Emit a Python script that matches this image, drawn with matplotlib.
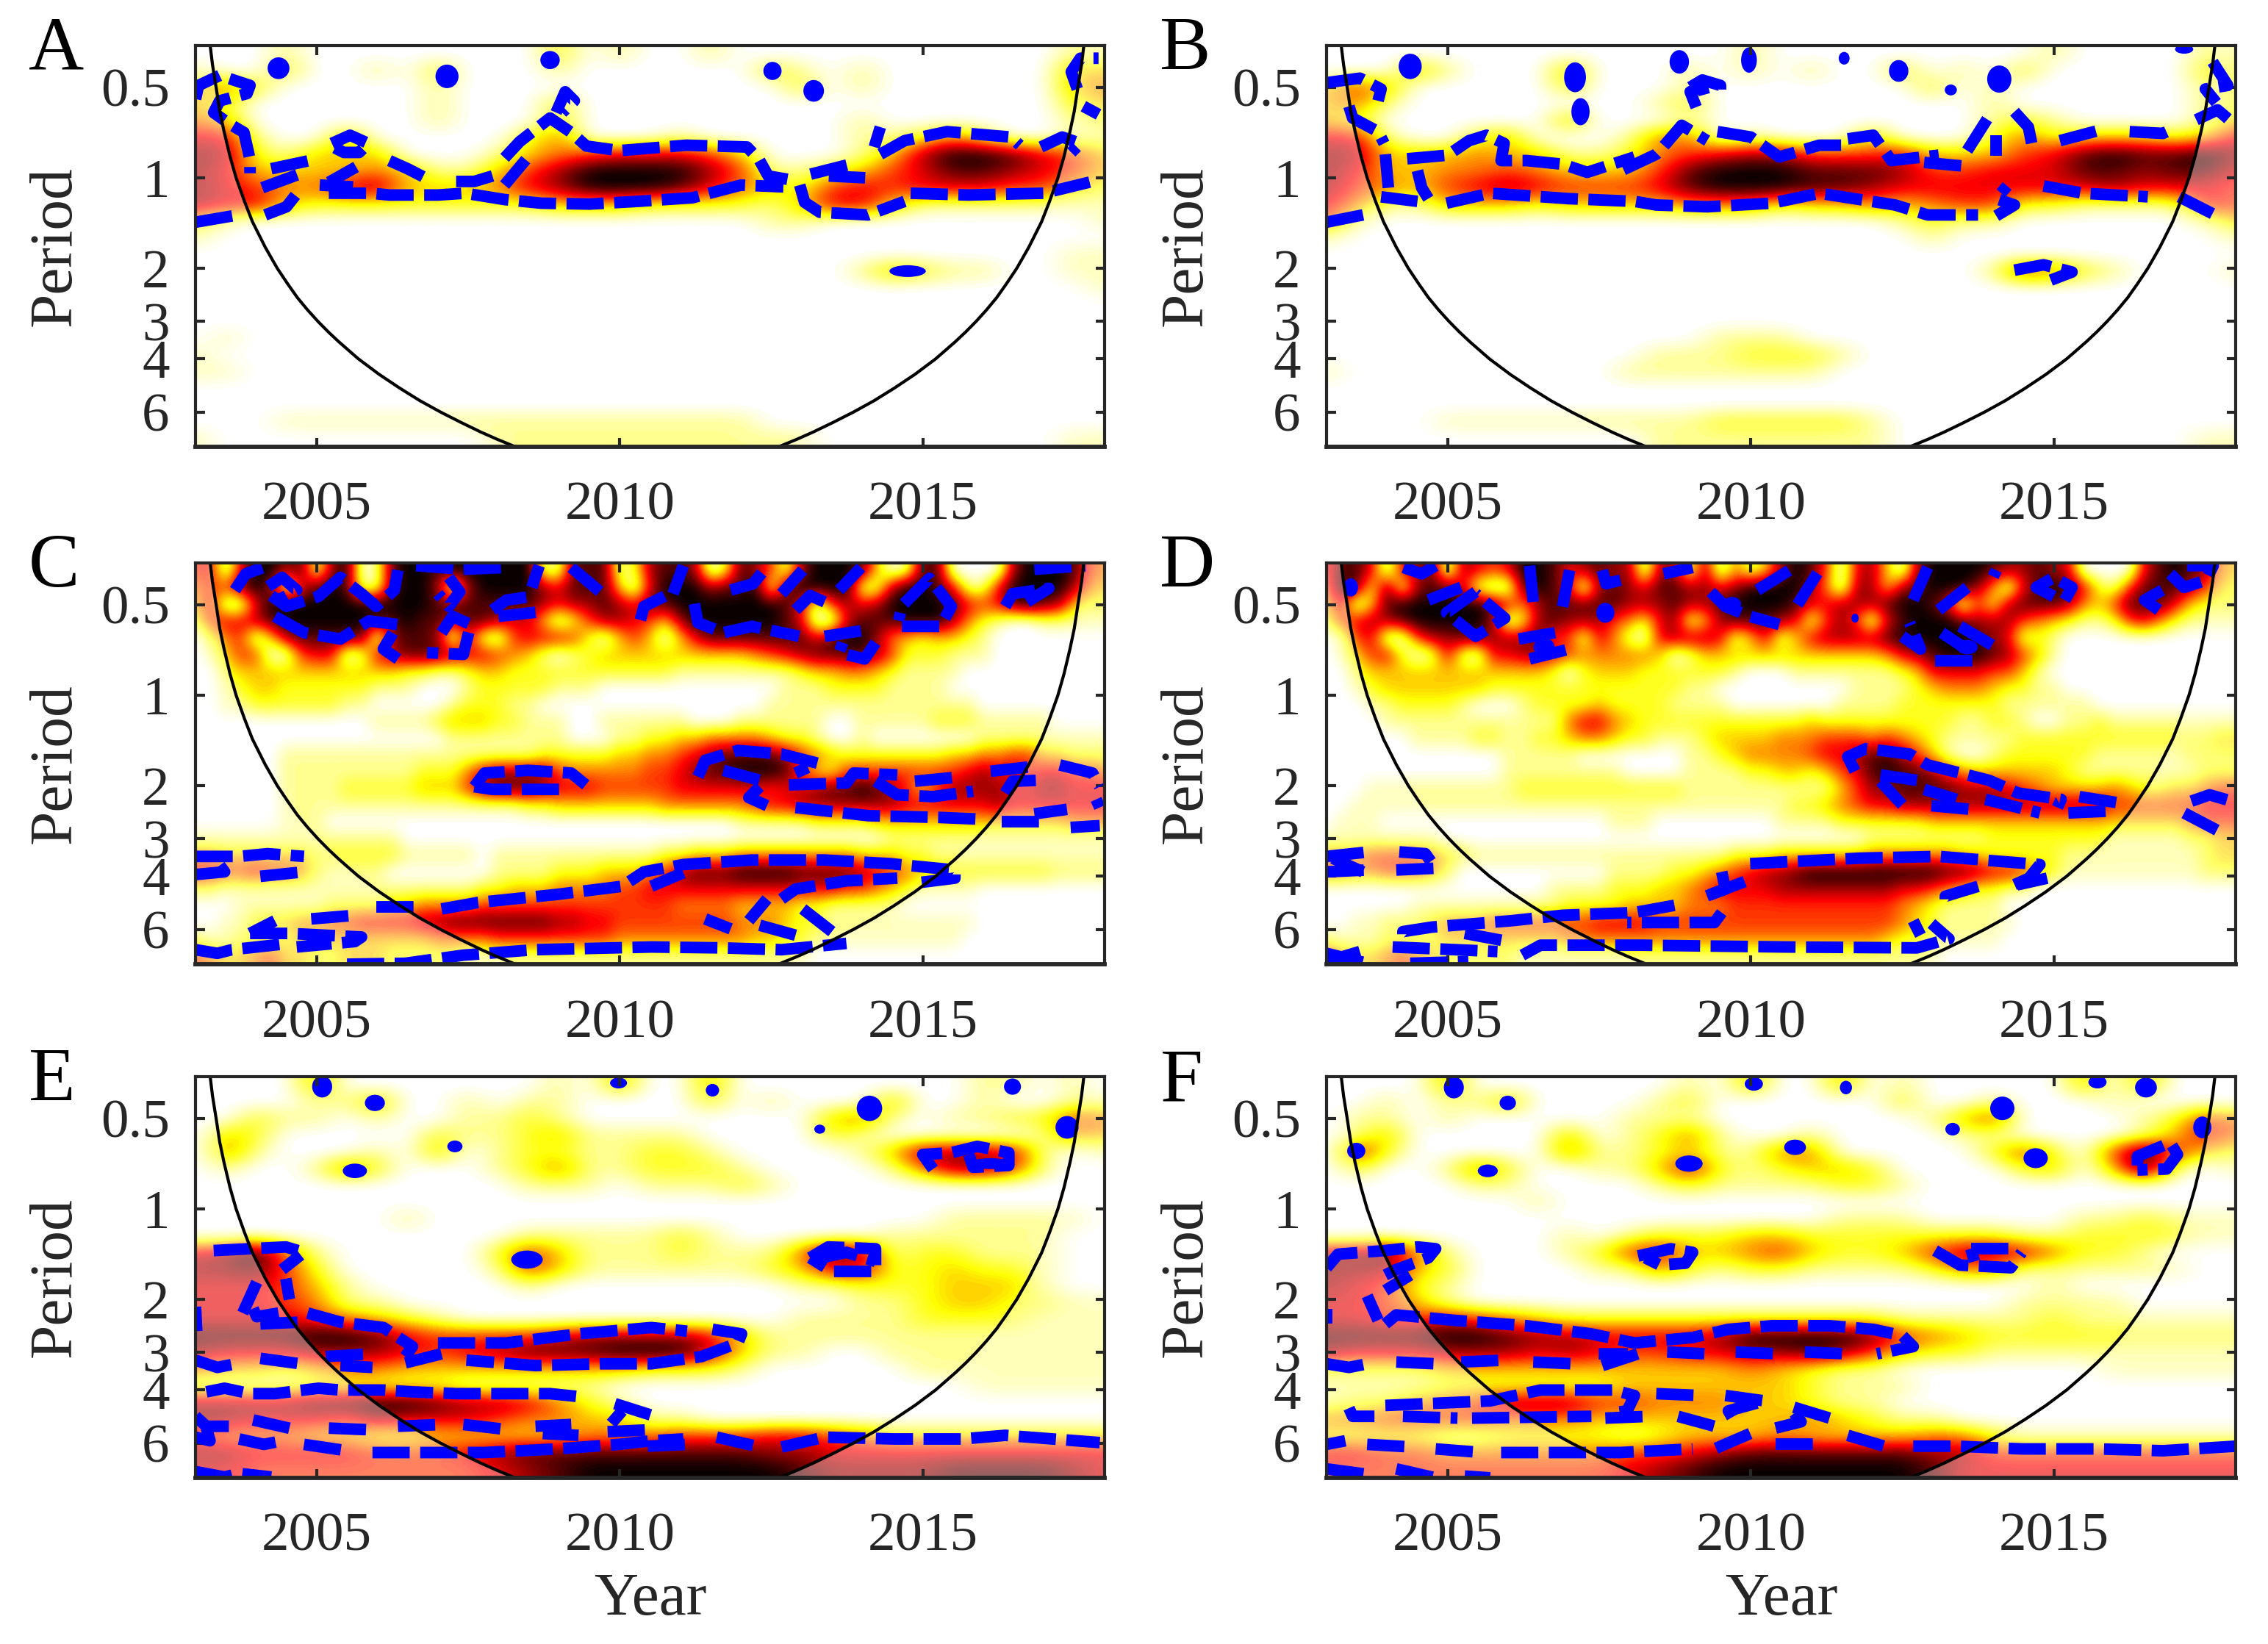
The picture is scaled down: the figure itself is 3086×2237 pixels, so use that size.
import matplotlib
matplotlib.use("Agg")
import matplotlib.pyplot as plt
from matplotlib.patches import Ellipse
import numpy as np

plt.rcParams["font.family"] = ["Liberation Serif", "DejaVu Serif"]

# wavelet power, levels 0 (white) to 9 (black)
# one row per period step (short periods first), spaces split the years
power_a = [
    "00 01 00 00 00 00 20 10 01 00 00 00 00 00 01 1",
    "10 02 00 10 20 00 10 00 00 02 10 10 00 00 03 3",
    "34 20 00 00 10 00 00 00 00 00 20 10 00 00 03 4",
    "32 00 00 00 10 00 20 00 00 00 00 00 00 00 02 3",
    "43 00 00 00 10 00 20 00 00 00 00 10 00 00 01 2",
    "66 10 03 00 00 02 40 00 10 00 00 11 24 20 01 1",
    "77 21 33 30 00 13 45 66 65 30 00 13 79 98 65 3",
    "76 33 33 43 11 35 79 99 97 51 12 35 68 87 65 3",
    "76 54 46 73 33 46 79 99 86 43 25 65 66 65 53 2",
    "76 63 22 22 22 22 33 32 22 21 36 63 11 11 11 1",
    "31 00 00 00 00 00 00 00 00 01 10 00 00 00 00 1",
    "10 00 00 00 00 00 00 00 00 00 00 00 00 00 00 0",
    "00 00 00 00 00 00 00 00 00 00 00 00 00 00 01 1",
    "00 00 00 00 00 00 00 00 00 00 00 13 21 10 01 1",
    "00 00 00 00 00 00 00 00 00 00 00 00 00 00 00 1",
    "00 00 00 00 00 00 00 00 00 00 00 00 00 00 00 0",
    "00 00 00 00 00 00 00 00 00 00 00 00 00 00 00 0",
    "01 00 00 00 00 00 00 00 00 00 00 00 00 00 00 0",
    "10 00 00 00 00 00 00 00 00 00 00 00 00 00 00 0",
    "11 00 00 00 00 00 00 00 00 00 00 00 00 00 00 0",
    "00 00 00 00 00 00 00 00 00 00 00 00 00 00 00 0",
    "00 00 00 00 00 00 00 00 00 00 00 00 00 00 00 0",
    "00 01 11 11 11 11 11 11 11 10 00 00 00 00 00 0",
    "10 00 00 00 00 11 11 11 11 11 10 00 00 00 01 1",
]
power_b = [
    "00 00 00 00 00 00 00 10 00 00 00 00 10 00 01 1",
    "00 03 10 00 30 00 10 10 10 02 01 02 00 00 02 2",
    "35 30 00 00 20 00 10 00 00 00 20 10 00 00 01 2",
    "34 10 00 00 00 01 20 00 00 00 00 10 00 00 01 2",
    "32 00 00 00 30 00 10 00 00 00 00 12 10 00 01 3",
    "66 10 02 30 00 14 40 10 00 30 00 24 23 33 23 6",
    "77 33 34 33 11 24 56 77 55 56 33 35 68 98 89 7",
    "76 33 44 54 33 35 89 99 88 87 55 66 68 87 88 6",
    "75 43 56 76 55 56 89 99 88 76 66 66 66 76 66 5",
    "64 11 33 32 33 33 44 42 33 43 45 52 21 11 16 5",
    "51 00 00 00 00 00 00 00 00 01 21 10 00 00 01 3",
    "10 00 00 00 00 00 00 00 00 00 10 00 00 00 00 1",
    "00 00 00 00 00 00 00 00 00 00 00 00 00 00 00 0",
    "00 00 00 00 00 00 00 00 00 00 00 15 42 10 00 1",
    "00 00 00 00 00 00 00 00 00 00 00 00 00 00 00 0",
    "00 00 00 00 00 00 00 00 00 00 00 00 00 00 00 0",
    "00 00 00 00 00 00 00 00 00 00 00 00 00 00 00 0",
    "00 00 00 00 00 00 01 11 00 00 00 00 00 00 00 0",
    "00 00 00 00 00 01 11 22 21 00 00 00 00 00 00 0",
    "10 00 00 00 00 11 11 11 10 00 00 00 00 00 00 0",
    "00 00 00 00 00 00 00 00 00 00 00 00 00 00 00 0",
    "00 00 00 00 00 00 00 00 00 00 00 00 00 00 00 0",
    "00 00 11 11 11 11 12 22 22 10 00 00 00 00 00 0",
    "00 00 00 00 00 01 11 11 11 10 00 00 00 00 01 1",
]
power_c = [
    "5606 9978 1790 1899 8999 9991 1888 1278 8702 8751 7999 8301 8800 0079 9985 4",
    "4558 9706 8981 1899 7079 9997 6888 3069 9978 8918 9999 1179 9861 1699 9974 3",
    "3600 6999 9999 9999 8888 8887 6778 7688 9999 9998 6157 6799 9986 5689 8732 2",
    "2566 7899 9999 8898 8788 7663 0257 7653 7999 9998 6006 8889 9974 2100 1111 1",
    "0245 0378 8888 0788 7061 0566 6520 3530 3688 8888 8689 9743 2332 1000 0000 0",
    "0135 5005 6601 6788 8766 5431 0123 3333 3333 3456 7888 8752 2211 1000 0000 0",
    "0023 3333 3333 3322 1123 3222 2222 2222 1111 1111 2334 4321 1110 0000 0000 0",
    "0012 3322 2222 1110 0012 2222 1110 0000 0000 0001 1122 2211 1100 0000 0000 0",
    "0011 2222 2211 0000 0122 2110 0000 0000 0000 0011 1111 1111 1111 0000 0000 0",
    "0000 0000 0000 1111 2333 2211 1001 1111 1000 1111 1100 1111 1222 1111 1000 0",
    "0000 0000 0000 0000 0111 1111 1000 1122 3344 4432 2100 1000 0000 1111 1111 1",
    "0000 0011 1111 1111 1111 1112 2222 3344 5678 8887 5432 2222 2233 4455 3322 2",
    "0000 0011 1111 1112 2246 7777 5444 4455 6788 9998 5325 5555 5556 7665 6655 4",
    "0000 0011 1122 2223 3357 8887 6665 5555 6666 6656 6788 9875 3577 7766 7766 6",
    "0000 0011 1111 1111 1111 1122 3333 3334 4444 4566 7777 7776 6666 6766 6666 6",
    "0000 0011 1000 0000 0000 0000 0000 0000 0000 1111 1222 2333 3333 3333 3344 4",
    "1111 1111 1111 1100 0000 0000 0000 0000 0000 0000 0000 0011 1111 1111 1111 1",
    "4433 3333 2222 2211 1110 1111 1111 1112 2333 4444 4444 3332 2111 1111 1111 1",
    "6655 6554 2111 1000 0000 1111 2223 3345 7888 9999 8888 7654 3333 3333 3222 2",
    "2211 1111 1111 1111 1112 2333 4444 5566 6666 6666 6665 5432 1111 0000 0000 0",
    "0001 1111 1222 2334 4445 5555 5555 5555 4444 3333 2211 1110 0000 0000 0000 0",
    "0011 3334 4556 6667 7888 8888 7766 5555 5555 4443 2211 1111 1111 0000 0000 0",
    "2112 2223 3333 3333 4444 5555 5555 4444 4444 4332 2111 1111 1110 0000 0000 0",
    "5433 4533 2233 3222 2211 1111 1111 1111 1111 1111 1000 0000 0000 0000 0000 0",
]
power_d = [
    "5886 0678 0765 6998 6787 7077 1704 1379 8506 7307 9999 8778 7600 0068 9874 3",
    "4982 8178 8610 0898 6078 7688 7767 9999 7407 7378 9997 4068 9862 1588 8753 2",
    "3603 8999 9998 6478 8888 7778 7789 9998 6677 7899 8605 2788 8743 5888 6322 2",
    "2567 7899 9997 0278 7775 4267 1378 8876 1575 0689 9987 7754 3211 2564 2111 1",
    "0156 0057 7887 7785 5164 1067 7761 3613 6777 7899 9998 7612 1000 0000 0000 0",
    "0135 6201 6106 6776 5444 4430 1333 3333 3333 3467 8999 8753 1000 0000 0000 0",
    "0023 3333 3333 3332 0233 3222 2221 0001 1111 1123 6666 5531 0000 0000 0000 0",
    "0012 3333 3332 2222 2222 2222 1100 0000 0001 1112 3444 3221 1000 0000 0000 0",
    "0001 1222 2100 0122 2232 2221 1110 0000 0011 1122 2222 2111 1110 0000 0000 0",
    "0000 1111 1111 1111 4664 3222 2222 2222 3222 2222 2211 2210 0112 1111 1111 1",
    "0000 0011 1122 1122 3443 2211 1233 3344 4555 4543 2111 1122 2222 2222 2223 3",
    "0000 0000 0000 1111 1000 0000 1123 4444 5667 8875 3100 1222 2221 1111 1222 2",
    "0000 0000 0000 1111 1111 0000 1111 2233 2356 8988 7543 3333 3211 1111 1122 2",
    "0001 1111 1111 1222 2222 2222 1111 1111 1135 7788 8877 7654 3333 4322 3345 5",
    "0011 1111 1111 1111 1111 1111 1111 1112 2345 6677 7777 7777 7777 5555 5566 6",
    "0111 0000 0000 0000 0001 1100 0000 0011 1122 2222 3333 3333 3333 3333 3455 5",
    "1111 1111 0000 0000 0000 0000 0000 0000 0000 1111 1111 2222 2222 1111 1223 3",
    "4445 5554 3211 1111 1111 1111 1112 2233 3333 4444 4433 2222 2111 1111 1123 3",
    "5544 5554 2000 0000 0001 1112 2345 6778 9999 9999 9887 6653 2111 1111 1122 2",
    "0000 0000 0000 0001 1112 2233 4566 6677 7777 7766 5432 2110 0000 0000 0000 0",
    "0000 0011 1111 1111 2222 3333 4445 5555 5555 5543 2111 1000 0000 0000 0000 0",
    "0011 2223 4445 5555 5566 6655 5555 5555 5555 5543 2111 1100 0000 0000 0000 0",
    "2111 2222 3333 3333 4444 4444 4444 4444 4444 4322 1111 1000 0000 0000 0000 0",
    "5433 4543 2222 2111 1111 1111 1111 1111 1111 1111 1000 0000 0000 0000 0000 0",
]
power_e = [
    "00 00 30 00 00 00 10 30 03 00 00 00 00 11 01 0",
    "00 00 11 30 01 01 10 00 02 01 00 03 00 10 01 1",
    "00 21 10 10 01 12 10 00 00 00 03 41 01 12 25 4",
    "03 20 00 00 21 12 31 11 10 00 02 10 00 00 14 3",
    "04 10 00 10 30 12 21 12 21 00 00 13 77 76 10 1",
    "01 00 14 20 00 12 41 12 22 10 00 01 47 75 10 0",
    "00 00 00 00 00 01 11 01 11 21 00 00 00 00 00 0",
    "00 00 00 00 00 00 00 00 00 00 00 00 00 00 00 0",
    "00 00 00 01 00 00 00 00 00 00 00 00 01 11 11 0",
    "00 00 00 00 00 01 11 11 21 00 00 01 11 11 10 0",
    "67 94 10 00 00 25 31 11 21 11 48 71 22 11 10 0",
    "77 85 20 00 00 15 31 11 11 12 36 62 23 22 10 0",
    "66 65 31 00 00 01 00 00 00 00 11 22 23 33 10 0",
    "66 65 41 10 00 00 00 00 00 00 00 11 23 32 21 1",
    "66 66 54 32 10 00 00 00 00 00 11 11 22 22 11 1",
    "88 88 99 86 55 55 67 77 76 31 11 11 11 11 11 1",
    "76 66 77 76 56 78 88 99 96 31 10 01 11 11 11 1",
    "43 32 34 43 33 33 33 32 22 10 00 00 11 11 11 1",
    "11 11 22 22 21 11 11 00 00 00 00 00 00 11 11 1",
    "77 77 88 99 87 76 42 10 00 00 00 00 00 00 00 0",
    "77 66 65 76 66 54 43 31 10 00 00 00 00 00 00 0",
    "54 44 33 22 33 33 34 44 55 56 65 43 33 33 33 3",
    "77 66 66 55 56 78 88 88 88 87 76 66 66 66 66 6",
    "66 55 55 55 55 67 89 99 99 99 87 77 78 88 87 6",
]
power_f = [
    "00 00 30 00 00 00 10 30 03 01 00 00 03 03 00 0",
    "00 10 11 30 00 01 20 00 00 02 00 10 00 10 00 0",
    "01 10 10 00 00 11 10 00 00 00 13 50 00 01 25 4",
    "01 30 00 00 30 12 41 00 10 00 01 10 00 01 36 4",
    "06 20 00 00 41 12 31 14 40 00 00 25 20 59 53 2",
    "02 00 14 20 01 13 62 12 33 20 00 02 30 39 10 1",
    "00 00 01 10 00 01 21 11 12 21 00 00 00 00 00 0",
    "00 00 00 01 00 00 00 00 00 00 00 00 00 00 00 0",
    "00 00 00 00 00 00 00 00 01 11 00 00 01 12 11 1",
    "00 00 00 00 10 12 22 33 22 22 22 21 12 22 21 1",
    "77 84 10 00 12 56 33 45 32 23 57 76 42 21 00 0",
    "77 73 20 00 01 14 21 22 11 11 24 41 11 11 10 0",
    "76 52 10 00 00 00 00 00 00 00 00 00 10 00 00 0",
    "66 53 10 00 00 00 00 00 00 00 00 01 11 10 00 0",
    "66 55 65 43 22 22 22 22 22 21 11 11 21 11 11 1",
    "88 88 99 87 76 66 67 99 99 85 43 22 22 22 22 2",
    "76 66 77 76 76 55 66 77 87 53 22 11 11 11 11 1",
    "22 22 33 33 33 33 33 43 21 10 00 00 00 11 11 1",
    "11 11 22 22 22 33 33 33 21 11 00 00 00 00 00 0",
    "12 24 45 77 75 54 44 33 21 10 00 00 00 00 00 0",
    "44 55 55 44 43 33 33 33 43 21 10 00 00 00 00 0",
    "22 22 11 22 22 12 33 34 33 33 44 21 11 11 11 1",
    "66 55 44 44 44 55 67 88 88 88 77 55 55 55 55 5",
    "55 55 55 55 55 67 89 99 99 99 86 66 66 66 66 6",
]

# significance contours as (year - 2000, log2 period)
paths_a = [
    [(3.0,-.87),(3.05,-1.02),(3.4,-1.13),(3.9,-1.02),(3.85,-.93),(3.4,-.85),(3.3,-.72),(3.55,-.6),(3.8,-.5),(3.9,-.2),(3.9,-.05)],
    [(4.25,-.1),(4.95,-.2)], [(4.1,.11),(4.75,-.05)], [(3.0,.49),(3.7,.41)], [(4.15,.41),(4.5,.32),(4.7,.15)],
    [(5.25,-.38),(5.55,-.47),(5.85,-.38),(5.7,-.28),(5.45,-.28),(5.3,-.33)],
    [(5.05,.08),(5.6,.1)], [(5.2,.05),(5.65,-.12)],
    [(5.2,.17),(5.9,.17),(6.2,.19),(7,.19),(7.45,.17),(8.1,.24),(8.7,.28),(9.5,.29),(10.3,.26),(11.2,.22),(12,.08),(12.7,.1)],
    [(6.2,-.19),(6.5,-.1),(6.85,.02)], [(7.3,.04),(7.6,.04),(7.95,-.03)],
    [(8.1,.08),(8.45,-.2)],
    [(8.1,-.22),(8.35,-.4),(8.85,-.66),(9.2,-.5),(9.45,-.35),(10,-.3),(11.1,-.36),(12.1,-.34),(12.3,-.2),(12.45,-.02),(12.8,.02)],
    [(8.95,-.72),(9.1,-.95),(9.25,-.85),(9.05,-.72)],
    [(13.15,-.04),(13.8,-.15)], [(13.45,-.02),(14.05,0)],
    [(12.97,.08),(13.05,.27),(13.3,.38),(14.1,.41),(14.7,.26)],
    [(14.8,.17),(15.75,.19),(17,.17),(17.8,.04)],
    [(14.3,-.26),(14.7,-.41),(15.4,-.51),(16.45,-.45),(16.6,-.36)],
    [(14.2,-.34),(14.3,-.56)],
    [(16.95,-.34),(17.3,-.45),(17.6,-.38),(17.45,-.28)],
    [(17.55,-.98),(17.45,-1.17),(17.6,-1.32),(17.9,-1.32)], [(17.65,-.79),(17.9,-.7)],
]
paths_b = [
    [(3,-1.05),(3.55,-1.1),(3.9,-.98),(3.85,-.85)],
    [(3.37,-.79),(3.43,-.66),(3.85,-.51),(3.95,-.38)],
    [(3.97,-.26),(4.02,.11)], [(4.5,-.08),(4.57,.11),(4.68,.23)], [(3.9,.21),(4.5,.26)], [(3,.49),(3.67,.4)],
    [(4.33,-.21),(5,-.25),(5.35,-.41),(5.64,-.47),(5.93,-.38),(5.88,-.19),(6.3,-.19),(6.9,-.15),(7.3,-.06),(8.08,-.23)],
    [(7.9,-.09),(8.44,-.26),(8.5,-.3),(8.86,-.58),(9.28,-.41)],
    [(9.45,-.51),(10,-.45),(10.47,-.23),(11.13,-.36),(11.49,-.36)],
    [(11.6,-.43),(12.02,-.47),(12.32,-.19),(13.1,-.25)], [(12.86,-.17),(13.5,-.13)],
    [(4.98,.28),(5.7,.17),(7,.23),(8.08,.26),(8.44,.3),(9.28,.32),(10.35,.28),(11.13,.17),(12.38,.3),(12.92,.41),(13.75,.41)],
    [(14.05,.42),(14.35,.3),(14.05,.23),(14.23,.09)],
    [(14.83,.09),(15.48,.17),(16.55,.21)], [(17.07,.21),(17.66,.41)],
    [(15.1,-.41),(15.78,-.53)], [(16.25,-.51),(16.8,-.49),(17,-.55)],
    [(17.35,-.64),(17.7,-.75),(17.93,-.62)],
    [(13.57,-.3),(13.93,-.68)], [(14.35,-.73),(14.58,-.56),(14.65,-.33)], [(14.05,-.47),(14.05,-.24)],
    [(17.62,-1.28),(17.87,-1.02),(17.5,-.98),(17.68,-.83)],
    [(14.35,1.02),(14.83,.96),(15.3,1.04),(14.95,1.13)],
    [(9.0,-1.0),(9.2,-1.08),(9.5,-1.02),(9.5,-.88)], [(9.1,-.78),(9.0,-.95),(9.2,-1.0),(9.25,-.88)],
]
paths_c = [
    [(3.65,-1.16),(3.83,-1.34),(4.2,-1.43)],
    [(4.25,-1.1),(4.5,-.98),(5.03,-1.09),(5.39,-1.3),(5.74,-1.12),(5.98,-.98),(6.28,-1.16),(6.34,-1.38)],
    [(4.2,-1.2),(4.43,-1.3),(4.67,-1.16),(4.37,-1.05)],
    [(6.64,-1.43),(7.42,-1.39),(8.13,-1.41)],
    [(7.18,-1.3),(7.36,-1.14),(7.18,-.98),(7,-1.12)],
    [(7.9,-.94),(8.13,-1.05),(8.55,-1.09)], [(8.0,-.87),(8.67,-.92)],
    [(4.31,-.87),(4.79,-.69),(5.39,-.62),(5.86,-.82),(6.34,-.78),(6.1,-.51),(6.34,-.4)],
    [(7.06,-.69),(7.24,-.87),(7.54,-.78),(7.42,-.45),(6.82,-.47)],
    [(8.55,-1.19),(8.67,-1.43)], [(9.2,-1.41),(9.68,-1.14)],
    [(10.34,-.83),(10.4,-.98),(10.76,-1.1)], [(10.88,-1.12),(11.05,-1.43)],
    [(11.23,-1.01),(11.29,-.8),(11.71,-.69),(12.18,-.76),(12.96,-.65)],
    [(11.83,-1.16),(12.2,-1.23),(12.44,-1.43)], [(12.67,-1.12),(13.02,-1.38)],
    [(12.9,-.94),(13.14,-1.1),(13.38,-1.03)],
    [(14.69,-1.01),(15.11,-1.29),(15.47,-.98),(15.29,-.76),(14.58,-.76),(14.63,-.91)],
    [(13.38,-.65),(13.98,-.71)], [(14.22,-.58),(14.04,-.4),(13.62,-.47),(13.68,-.58)],
    [(13.62,-1.16),(13.98,-1.41)],
    [(16.36,-.98),(16.48,-1.12),(17.08,-1.18),(16.72,-1.03)], [(16.84,-1.39),(17.68,-1.43)],
    [(7.6,1.01),(7.77,.86),(8.49,.83),(9.2,.86),(9.44,.99)], [(7.6,1.01),(7.9,1.04),(9.03,1.04)],
    [(11.29,.9),(11.41,.72),(11.95,.61),(12.67,.65),(13.26,.75),(12.9,.86)], [(11.71,.83),(12.37,.95)],
    [(12.79,.99),(13.74,.97),(13.86,.86),(14.58,.88)],
    [(14.22,.95),(14.58,1.1),(15.17,1.12),(15.83,1.06)], [(14.87,.95),(15.65,.9)],
    [(12.43,1.22),(12.13,1.13),(12.31,1.01)],
    [(12.9,1.24),(14.1,1.33),(15.29,1.35),(16.0,1.37)], [(16.3,1.4),(16.96,1.4)],
    [(16.36,1.08),(16.48,.95),(16.9,.94)], [(16.12,.84),(16.78,.79)],
    [(17.26,.77),(17.8,.86),(17.92,1.01)], [(17.86,1.15),(17.92,1.24)], [(16.84,1.31),(17.38,1.26)], [(17.44,1.46),(17.92,1.44)],
    [(3,1.78),(3.72,1.78),(4.19,1.75),(4.79,1.78)], [(3,1.98),(3.48,1.95),(3.36,1.84)], [(4.07,2),(4.79,1.95)],
    [(5.98,2.34),(6.64,2.34)],
    [(7.06,2.36),(7.65,2.29),(8.96,2.2),(10.04,2.11),(10.4,1.95),(11.05,1.87),(12.18,1.82),(13.38,1.82),(14.46,1.86),(15.53,1.93),(15.53,2.02),(14.93,2.07)],
    [(10.52,2.11),(11.05,1.96)], [(12.67,2.25),(12.9,2.14),(13.74,2.05),(14.58,2.02)],
    [(12.13,2.49),(12.43,2.25)], [(13.02,2.36),(13.5,2.61)],
    [(11.41,2.47),(11.83,2.58)], [(12.31,2.54),(12.9,2.65)],
    [(4.91,2.47),(5.63,2.43)], [(3.9,2.63),(4.31,2.49)], [(3.9,2.63),(4.55,2.63),(5.74,2.67),(5.63,2.72),(4.67,2.78)],
    [(3,2.81),(3.36,2.85),(3.6,2.81),(4.55,2.74)],
    [(5.5,2.97),(6.46,2.96),(7.42,2.87),(8.6,2.81),(10.52,2.78),(11.7,2.79),(12.67,2.81),(13.74,2.74)],
]
paths_d = [
    [(4.27,-1.41),(4.57,-1.34),(4.8,-1.43)],
    [(5.46,-1.14),(4.98,-.91),(5.46,-.65),(5.94,-.85),(5.46,-1.12)], [(4.68,-1.05),(5.22,-1.19)],
    [(6.35,-1.43),(6.41,-1.03)], [(7.01,-1.38),(6.89,-.96)], [(7.55,-1.38),(7.61,-1.23),(7.85,-1.27)],
    [(8.56,-1.34),(9.04,-1.41)], [(9.34,-1.14),(9.58,-.98),(9.99,-.87),(10.47,-.78)],
    [(10.11,-1.16),(10.71,-1.41)], [(10.77,-1),(11.13,-1.38)],
    [(12.68,-1.05),(12.92,-1.41)], [(13.1,-.94),(13.57,-1.19)],
    [(12.5,-.65),(12.8,-.51),(12.62,-.8)], [(13.45,-.76),(13.99,-.55)], [(13.15,-.69),(13.51,-.53)],
    [(13.04,-.38),(13.69,-.38)], [(14.05,-1.38),(14.0,-1.31)],
    [(15,-1.09),(14.71,-1.19),(15,-1.3),(15.3,-1.19),(15.18,-1.05)],
    [(16.73,-.94),(16.5,-1.05),(16.79,-1.16)],
    [(16.92,-1.34),(17.15,-1.19),(17.51,-1.27),(17.63,-1.43),(17.03,-1.43)],
    [(6.17,-.62),(6.77,-.69)], [(6.35,-.4),(7.01,-.51)],
    [(11.72,.84),(11.6,.68),(11.9,.59),(12.62,.65),(12.92,.77),(13.93,.94),(14.41,1.08),(15.12,1.15),(15.06,1.24)],
    [(12.14,.88),(12.74,.94)], [(12.14,.95),(12.5,1.21)],
    [(12.86,1.04),(13.39,1.15)], [(12.98,1.22),(13.63,1.26)], [(13.87,1.15),(14.77,1.3)], [(15.24,1.3),(15.9,1.28)], [(15.42,1.12),(16.08,1.19)],
    [(17.27,1.17),(17.57,1.1),(17.93,1.17)], [(17.15,1.3),(17.69,1.49)],
    [(3,1.78),(3.7,1.73)], [(3,1.95),(3.67,1.93)], [(4.15,1.93),(4.8,1.91),(4.63,1.75),(4.2,1.73)], [(3.1,1.8),(3.6,1.95)],
    [(9.99,1.86),(11.78,1.8),(13.1,1.78),(14.77,1.87),(14.59,2.02),(14.29,2.11),(14.89,2.02)],
    [(9.52,1.95),(9.58,2.14),(9.22,2.23),(9.93,2.05)],
    [(13.75,2.11),(13.21,2.22),(13.21,2.34)],
    [(8.74,2.32),(8.08,2.4),(6.89,2.43),(6.05,2.49),(4.74,2.56),(4.26,2.61),(4.26,2.65)],
    [(9.52,2.4),(9.4,2.51),(7.96,2.51)],
    [(5.28,2.63),(6,2.72)], [(4.09,2.78),(5.82,2.83)],
    [(6.23,2.87),(6.53,2.76),(8.2,2.76),(10.59,2.78),(12.74,2.79),(13.27,2.69),(12.98,2.52)],
    [(12.68,2.49),(12.8,2.65)],
    [(3,2.85),(3.67,2.96)], [(3,2.94),(3.55,2.83)], [(4.38,2.96),(5.34,2.94)],
]
paths_e = [
    [(15.17,-.44),(15.0,-.6),(15.47,-.62),(15.9,-.69),(16.42,-.62),(16.42,-.48),(15.83,-.46),(15.76,-.6)],
    [(13.14,.54),(13.44,.42),(14.22,.44),(14.22,.69),(13.5,.69),(13.14,.54)], [(13.32,.54),(13.74,.48),(14.22,.58)],
    [(3.3,.46),(3.9,.44),(4.49,.42),(4.79,.48),(4.43,.67)],
    [(4.49,.77),(4.55,1)], [(4.01,.81),(3.78,1.15)], [(3.95,1.1),(4.01,1.19),(4.37,1.15)], [(3,1.08),(3.02,1.35)],
    [(4.07,1.27),(4.73,1.25)],
    [(4.85,1.15),(5.39,1.25),(6.1,1.31),(6.58,1.52),(6.46,1.63)],
    [(7,1.48),(8.13,1.48),(9.32,1.38),(10.52,1.31),(11.11,1.35)],
    [(11.53,1.33),(12.01,1.38),(11.95,1.48),(11.35,1.63),(10.52,1.71),(9.68,1.71),(8.61,1.73),(7.47,1.67)],
    [(7.06,1.6),(6.4,1.71)],
    [(3,1.67),(3.36,1.75),(3.66,1.71)], [(4.07,1.65),(4.73,1.71)], [(5.15,1.63),(5.92,1.6)], [(5.39,1.73),(5.92,1.75)],
    [(3.18,2.02),(3.48,1.98),(3.9,2.04),(4.31,2.04),(5.03,1.98),(5.39,2),(6.1,2),(6.58,2.02),(7.3,2.04),(8.37,2.04),(8.85,2.04),(9.44,2.08)],
    [(9.92,2.15),(10.58,2.29)], [(10.04,2.23),(9.86,2.37)],
    [(8.61,2.4),(9.2,2.38)], [(8.73,2.48),(9.32,2.5)], [(9.8,2.46),(10.46,2.44)],
    [(3.95,2.33),(4.67,2.44)], [(5.2,2.42),(5.92,2.44)], [(6.34,2.4),(7.06,2.38)], [(7.42,2.38),(8.19,2.44)],
    [(3,2.29),(3.18,2.4),(3.6,2.4)], [(3,2.52),(3.24,2.56),(3.18,2.42)],
    [(3.72,2.54),(4.13,2.6),(4.43,2.56)], [(4.79,2.6),(5.5,2.67)],
    [(5.92,2.69),(7.77,2.69),(8.97,2.65),(9.98,2.6),(10.52,2.56),(11.05,2.54)],
    [(10.46,2.62),(11.11,2.6)], [(11.6,2.52),(12.25,2.62)],
    [(12.67,2.63),(13.38,2.52),(14.52,2.54),(15.65,2.54),(16.36,2.5),(17.92,2.58)],
    [(3,2.9),(3.48,2.96),(3.72,2.92),(4.25,2.96)],
]
paths_f = [
    [(16.38,-.48),(16.38,-.58),(16.92,-.73),(17.04,-.6),(16.86,-.44),(16.38,-.43)],
    [(8.14,.52),(8.68,.44),(9.04,.48),(8.92,.6),(8.5,.62),(8.26,.54)],
    [(13.04,.46),(13.45,.62),(14.29,.65),(14.47,.48)], [(13.63,.44),(14.29,.44)], [(13.63,.44),(13.69,.58)],
    [(3,.65),(3.19,.5),(3.97,.46),(4.5,.42),(4.8,.44),(4.68,.54),(4.15,.67),(3.97,.73)],
    [(3.97,.9),(4.38,.73)], [(3.67,.96),(3.85,1.23)], [(3,1.1),(3,1.27)],
    [(3.97,1.27),(4.15,1.17),(5.1,1.23),(6.3,1.29),(7.37,1.38),(8.08,1.48),(9.04,1.42),(9.63,1.33),(10.35,1.29),(11.3,1.29),(12.02,1.33),(12.5,1.4),(12.68,1.52),(12.08,1.6)],
    [(3,1.71),(3.37,1.75),(3.67,1.71)], [(4.15,1.69),(4.8,1.71)], [(5.22,1.69),(5.94,1.67)], [(6.41,1.69),(7.07,1.71)],
    [(7.55,1.73),(8.14,1.6),(7.49,1.6)], [(8.62,1.58),(9.27,1.6)], [(9.75,1.58),(10.47,1.6)], [(10.89,1.58),(11.6,1.6)],
    [(3.37,2.2),(3.43,2.29),(3.79,2.29)],
    [(3.97,2.17),(5.7,2.12),(6.53,2),(7.73,2),(8.08,2.06),(7.96,2.23),(7.73,2.25)],
    [(4.26,2.29),(5.16,2.31)], [(5.4,2.31),(7.37,2.29)], [(7.6,2.31),(8.32,2.29)], [(8.8,2.29),(9.4,2.4)],
    [(8.44,2.04),(9.16,2.06)], [(9.58,2.06),(10.23,2.12),(9.63,2.23),(9.75,2.37)],
    [(9.99,2.48),(9.4,2.65),(9.34,2.69)],
    [(10.71,2.19),(11.3,2.31)], [(10.41,2.42),(10.83,2.35),(10.65,2.2)], [(11.6,2.5),(12.2,2.62)],
    [(3,2.6),(3.31,2.56)], [(3.67,2.6),(4.44,2.63)], [(4.8,2.65),(5.58,2.69)],
    [(5.88,2.69),(7.84,2.69),(9.04,2.65)], [(10.41,2.6),(11.07,2.6)],
    [(12.68,2.62),(13.39,2.62),(14.47,2.65),(15.72,2.65),(16.8,2.67),(18,2.62)],
    [(3,2.87),(3.67,2.93)], [(4.15,2.87),(4.8,2.97)], [(5.28,2.95),(5.7,2.97)],
]

# small closed significance islands as (year - 2000, log2 period, width, height)
spots_a = [(4.37,-1.21,.36,.24),(7.15,-1.12,.38,.26),(8.85,-1.3,.32,.2),(12.52,-1.18,.3,.2),(13.2,-.96,.34,.24),(14.75,1.03,.6,.13)]
spots_b = [(4.38,-1.23,.38,.28),(7.1,-1.11,.36,.33),(7.19,-.73,.3,.3),(8.82,-1.28,.32,.26),(9.97,-1.3,.26,.28),(11.54,-1.32,.18,.14),
           (12.44,-1.18,.32,.24),(13.3,-.97,.2,.12),(14.1,-1.09,.4,.3),(17.15,-1.42,.3,.1)]
spots_c = []
spots_d = [(3.4,-1.19,.24,.2),(7.6,-.91,.3,.22),(9.69,-1.01,.3,.15),(11.72,-.85,.12,.1),(13.57,-.53,.35,.16),(6.59,-.53,.35,.2)]
spots_e = [(5.09,-1.35,.33,.24),(5.96,-1.17,.33,.18),(9.98,-1.39,.28,.12),(11.53,-1.31,.22,.14),(14.12,-1.11,.42,.28),(16.48,-1.35,.28,.18),
           (13.3,-.88,.18,.1),(7.28,-.69,.25,.13),(5.63,-.42,.4,.16),(8.47,.56,.52,.2),(17.38,-.9,.38,.25),(16.12,-.5,.7,.12)]
spots_f = [(5.1,-1.34,.33,.24),(5.99,-1.17,.27,.16),(10.05,-1.38,.3,.15),(11.57,-1.34,.2,.15),(14.15,-1.11,.4,.26),(15.72,-1.4,.3,.14),
           (16.52,-1.34,.36,.22),(13.33,-.88,.24,.14),(3.49,-.64,.3,.18),(5.66,-.42,.33,.14),(8.98,-.5,.45,.18),(10.73,-.68,.36,.17),
           (14.7,-.56,.4,.22),(17.45,-.9,.3,.24)]

# cone of influence
coi_period = [0.36, 0.42, 0.5, 0.6, 0.7, 0.85, 1, 1.2, 1.4, 1.7, 2, 2.25, 2.5, 2.75, 3, 3.25, 3.5, 3.75, 4, 4.5, 5, 5.5, 6, 6.5, 7, 7.4, 7.85]
coi_left = [2003.24, 2003.28, 2003.34, 2003.40, 2003.47, 2003.57, 2003.67, 2003.81, 2003.94, 2004.15, 2004.35, 2004.52, 2004.68,
            2004.85, 2005.02, 2005.19, 2005.36, 2005.53, 2005.69, 2006.03, 2006.37, 2006.70, 2007.04, 2007.38, 2007.71, 2007.98, 2008.29]
coi_right = [2017.66, 2017.62, 2017.56, 2017.50, 2017.43, 2017.33, 2017.23, 2017.09, 2016.96, 2016.75, 2016.55, 2016.38, 2016.22,
             2016.05, 2015.88, 2015.71, 2015.54, 2015.37, 2015.21, 2014.87, 2014.53, 2014.20, 2013.86, 2013.52, 2013.19, 2012.92, 2012.61]

panel_letters = ["A", "B", "C", "D", "E", "F"]
period_ticks = [0.5, 1, 2, 3, 4, 6]
period_labels = ["0.5", "1", "2", "3", "4", "6"]
year_ticks = [2005, 2010, 2015]

W, H = 3087, 2237
LEFT = [266, 1805]
TOP = [62, 766, 1465]
AX_W, AX_H = 1237, 546
Y_TOP, Y_BOTTOM = -1.46, 2.97
INK = "#262626"
cmap = plt.get_cmap("hot_r", 64)


def to_grid(rows):
    return np.array([[int(c) for c in r.replace(" ", "")] for r in rows], dtype=float)


def draw_panel(ax, rows, paths, spots):
    grid = to_grid(rows)
    dx = 15 / (grid.shape[1] - 1)
    ax.imshow(grid, cmap=cmap, vmin=0, vmax=9, aspect="auto", interpolation="bicubic",
              extent=[2003 - dx / 2, 2018 + dx / 2, Y_BOTTOM, Y_TOP])

    # washed out area outside the cone
    coi_y = np.log2(coi_period)
    ax.fill_betweenx(coi_y, 2003, coi_left, color="white", alpha=0.38, lw=0)
    ax.fill_betweenx(coi_y, coi_right, 2018, color="white", alpha=0.38, lw=0)

    for path in paths:
        xs = [2000 + p[0] for p in path]
        ys = [p[1] for p in path]
        ax.plot(xs, ys, color="#0000ff", lw=3.8, linestyle=(0, (3.2, 0.9)),
                dash_capstyle="butt", dash_joinstyle="round")
    for x, y, w, h in spots:
        ax.add_patch(Ellipse((2000 + x, y), w, h, color="#0000ff", lw=0))

    ax.plot(coi_left, coi_y, color="black", lw=1.0)
    ax.plot(coi_right, coi_y, color="black", lw=1.0)

    ax.set_xlim(2003, 2018)
    ax.set_ylim(Y_BOTTOM, Y_TOP)
    ax.set_xticks(year_ticks)
    ax.set_yticks(np.log2(period_ticks))
    ax.set_yticklabels(period_labels)
    ax.tick_params(axis="both", direction="in", top=True, right=True, length=3, width=1,
                   color=INK, labelcolor=INK, labelsize=18)
    ax.tick_params(axis="x", pad=11.4)
    ax.tick_params(axis="y", pad=8.5)
    for side in ax.spines.values():
        side.set_linewidth(1.0)
        side.set_color(INK)
    ax.spines["bottom"].set_linewidth(1.4)
    ax.set_ylabel("Period", fontsize=20, color=INK, va="center")
    ax.yaxis.set_label_coords(-0.154, 0.5)


fig = plt.figure(figsize=(W / 300, H / 300), dpi=300)
all_power = [power_a, power_b, power_c, power_d, power_e, power_f]
all_paths = [paths_a, paths_b, paths_c, paths_d, paths_e, paths_f]
all_spots = [spots_a, spots_b, spots_c, spots_d, spots_e, spots_f]

for i in range(6):
    col, row = i % 2, i // 2
    ax = fig.add_axes([LEFT[col] / W, 1 - (TOP[row] + AX_H) / H, AX_W / W, AX_H / H])
    draw_panel(ax, all_power[i], all_paths[i], all_spots[i])
    fig.text((LEFT[col] - 227) / W, 1 - (TOP[row] + 32) / H, panel_letters[i], fontsize=25,
             color="black", ha="left", va="baseline")
    if row == 2:
        ax.set_xlabel("Year", fontsize=20, color=INK, va="center")
        ax.xaxis.set_label_coords(0.5, -0.305)

fig.savefig("out.png", dpi=300)
